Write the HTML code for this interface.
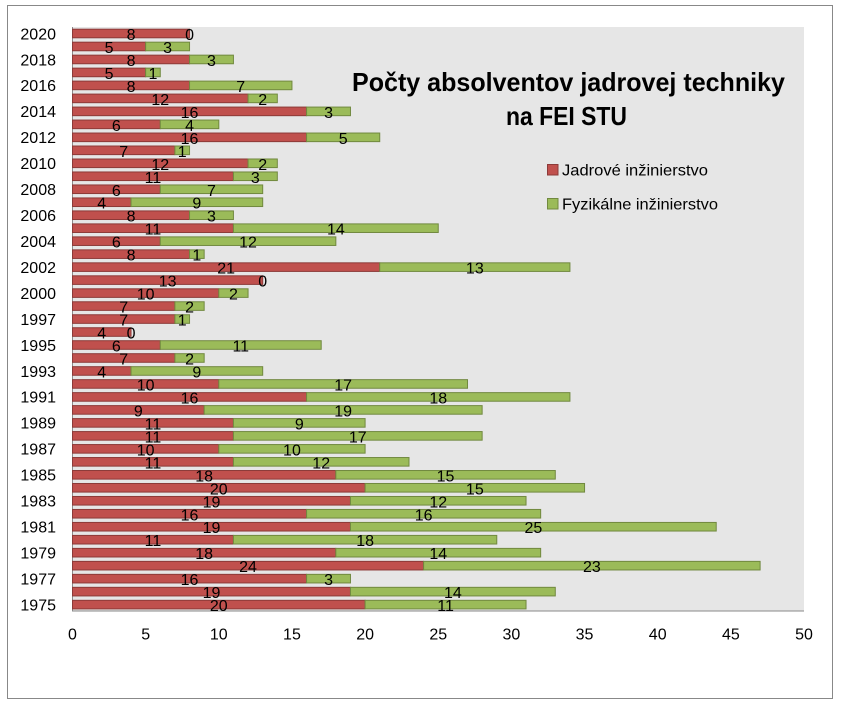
<!DOCTYPE html>
<html><head><meta charset="utf-8"><style>
html,body{margin:0;padding:0;background:#fff;}
svg{display:block;}
text{font-family:"Liberation Sans",sans-serif;fill:#000;}
</style></head><body>
<svg width="843" height="707" viewBox="0 0 843 707" xmlns="http://www.w3.org/2000/svg">
<rect x="0" y="0" width="843" height="707" fill="#fff"/>
<rect x="7.5" y="5.5" width="825" height="693" fill="#fff" stroke="#888" stroke-width="1"/>
<rect x="72.5" y="27" width="731.5" height="584" fill="#e6e6e6"/>
<line x1="72.5" y1="27" x2="72.5" y2="611" stroke="#8a8a8a" stroke-width="1"/>
<line x1="72" y1="611" x2="804" y2="611" stroke="#8a8a8a" stroke-width="1"/>

<g stroke-width="1">
<g id="bars">
<g transform="translate(0,33.49)"><rect x="72.5" y="-4.3" width="117.04" height="8.6" fill="#c0504d" stroke="#8c3a38"/><text x="131.02" y="6.5" font-size="16" text-anchor="middle">8</text><text x="189.54" y="6.5" font-size="16" text-anchor="middle">0</text></g>
<g transform="translate(0,46.47)"><rect x="72.5" y="-4.3" width="73.15" height="8.6" fill="#c0504d" stroke="#8c3a38"/><rect x="145.65" y="-4.3" width="43.89" height="8.6" fill="#9bbb59" stroke="#71893f"/><text x="109.08" y="6.5" font-size="16" text-anchor="middle">5</text><text x="167.6" y="6.5" font-size="16" text-anchor="middle">3</text></g>
<g transform="translate(0,59.45)"><rect x="72.5" y="-4.3" width="117.04" height="8.6" fill="#c0504d" stroke="#8c3a38"/><rect x="189.54" y="-4.3" width="43.89" height="8.6" fill="#9bbb59" stroke="#71893f"/><text x="131.02" y="6.5" font-size="16" text-anchor="middle">8</text><text x="211.49" y="6.5" font-size="16" text-anchor="middle">3</text></g>
<g transform="translate(0,72.43)"><rect x="72.5" y="-4.3" width="73.15" height="8.6" fill="#c0504d" stroke="#8c3a38"/><rect x="145.65" y="-4.3" width="14.63" height="8.6" fill="#9bbb59" stroke="#71893f"/><text x="109.08" y="6.5" font-size="16" text-anchor="middle">5</text><text x="152.97" y="6.5" font-size="16" text-anchor="middle">1</text></g>
<g transform="translate(0,85.41)"><rect x="72.5" y="-4.3" width="117.04" height="8.6" fill="#c0504d" stroke="#8c3a38"/><rect x="189.54" y="-4.3" width="102.41" height="8.6" fill="#9bbb59" stroke="#71893f"/><text x="131.02" y="6.5" font-size="16" text-anchor="middle">8</text><text x="240.75" y="6.5" font-size="16" text-anchor="middle">7</text></g>
<g transform="translate(0,98.39)"><rect x="72.5" y="-4.3" width="175.56" height="8.6" fill="#c0504d" stroke="#8c3a38"/><rect x="248.06" y="-4.3" width="29.26" height="8.6" fill="#9bbb59" stroke="#71893f"/><text x="160.28" y="6.5" font-size="16" text-anchor="middle">12</text><text x="262.69" y="6.5" font-size="16" text-anchor="middle">2</text></g>
<g transform="translate(0,111.37)"><rect x="72.5" y="-4.3" width="234.08" height="8.6" fill="#c0504d" stroke="#8c3a38"/><rect x="306.58" y="-4.3" width="43.89" height="8.6" fill="#9bbb59" stroke="#71893f"/><text x="189.54" y="6.5" font-size="16" text-anchor="middle">16</text><text x="328.53" y="6.5" font-size="16" text-anchor="middle">3</text></g>
<g transform="translate(0,124.35)"><rect x="72.5" y="-4.3" width="87.78" height="8.6" fill="#c0504d" stroke="#8c3a38"/><rect x="160.28" y="-4.3" width="58.52" height="8.6" fill="#9bbb59" stroke="#71893f"/><text x="116.39" y="6.5" font-size="16" text-anchor="middle">6</text><text x="189.54" y="6.5" font-size="16" text-anchor="middle">4</text></g>
<g transform="translate(0,137.33)"><rect x="72.5" y="-4.3" width="234.08" height="8.6" fill="#c0504d" stroke="#8c3a38"/><rect x="306.58" y="-4.3" width="73.15" height="8.6" fill="#9bbb59" stroke="#71893f"/><text x="189.54" y="6.5" font-size="16" text-anchor="middle">16</text><text x="343.16" y="6.5" font-size="16" text-anchor="middle">5</text></g>
<g transform="translate(0,150.31)"><rect x="72.5" y="-4.3" width="102.41" height="8.6" fill="#c0504d" stroke="#8c3a38"/><rect x="174.91" y="-4.3" width="14.63" height="8.6" fill="#9bbb59" stroke="#71893f"/><text x="123.71" y="6.5" font-size="16" text-anchor="middle">7</text><text x="182.23" y="6.5" font-size="16" text-anchor="middle">1</text></g>
<g transform="translate(0,163.29)"><rect x="72.5" y="-4.3" width="175.56" height="8.6" fill="#c0504d" stroke="#8c3a38"/><rect x="248.06" y="-4.3" width="29.26" height="8.6" fill="#9bbb59" stroke="#71893f"/><text x="160.28" y="6.5" font-size="16" text-anchor="middle">12</text><text x="262.69" y="6.5" font-size="16" text-anchor="middle">2</text></g>
<g transform="translate(0,176.27)"><rect x="72.5" y="-4.3" width="160.93" height="8.6" fill="#c0504d" stroke="#8c3a38"/><rect x="233.43" y="-4.3" width="43.89" height="8.6" fill="#9bbb59" stroke="#71893f"/><text x="152.97" y="6.5" font-size="16" text-anchor="middle">11</text><text x="255.38" y="6.5" font-size="16" text-anchor="middle">3</text></g>
<g transform="translate(0,189.25)"><rect x="72.5" y="-4.3" width="87.78" height="8.6" fill="#c0504d" stroke="#8c3a38"/><rect x="160.28" y="-4.3" width="102.41" height="8.6" fill="#9bbb59" stroke="#71893f"/><text x="116.39" y="6.5" font-size="16" text-anchor="middle">6</text><text x="211.49" y="6.5" font-size="16" text-anchor="middle">7</text></g>
<g transform="translate(0,202.23)"><rect x="72.5" y="-4.3" width="58.52" height="8.6" fill="#c0504d" stroke="#8c3a38"/><rect x="131.02" y="-4.3" width="131.67" height="8.6" fill="#9bbb59" stroke="#71893f"/><text x="101.76" y="6.5" font-size="16" text-anchor="middle">4</text><text x="196.86" y="6.5" font-size="16" text-anchor="middle">9</text></g>
<g transform="translate(0,215.21)"><rect x="72.5" y="-4.3" width="117.04" height="8.6" fill="#c0504d" stroke="#8c3a38"/><rect x="189.54" y="-4.3" width="43.89" height="8.6" fill="#9bbb59" stroke="#71893f"/><text x="131.02" y="6.5" font-size="16" text-anchor="middle">8</text><text x="211.49" y="6.5" font-size="16" text-anchor="middle">3</text></g>
<g transform="translate(0,228.19)"><rect x="72.5" y="-4.3" width="160.93" height="8.6" fill="#c0504d" stroke="#8c3a38"/><rect x="233.43" y="-4.3" width="204.82" height="8.6" fill="#9bbb59" stroke="#71893f"/><text x="152.97" y="6.5" font-size="16" text-anchor="middle">11</text><text x="335.84" y="6.5" font-size="16" text-anchor="middle">14</text></g>
<g transform="translate(0,241.17)"><rect x="72.5" y="-4.3" width="87.78" height="8.6" fill="#c0504d" stroke="#8c3a38"/><rect x="160.28" y="-4.3" width="175.56" height="8.6" fill="#9bbb59" stroke="#71893f"/><text x="116.39" y="6.5" font-size="16" text-anchor="middle">6</text><text x="248.06" y="6.5" font-size="16" text-anchor="middle">12</text></g>
<g transform="translate(0,254.15)"><rect x="72.5" y="-4.3" width="117.04" height="8.6" fill="#c0504d" stroke="#8c3a38"/><rect x="189.54" y="-4.3" width="14.63" height="8.6" fill="#9bbb59" stroke="#71893f"/><text x="131.02" y="6.5" font-size="16" text-anchor="middle">8</text><text x="196.86" y="6.5" font-size="16" text-anchor="middle">1</text></g>
<g transform="translate(0,267.13)"><rect x="72.5" y="-4.3" width="307.23" height="8.6" fill="#c0504d" stroke="#8c3a38"/><rect x="379.73" y="-4.3" width="190.19" height="8.6" fill="#9bbb59" stroke="#71893f"/><text x="226.12" y="6.5" font-size="16" text-anchor="middle">21</text><text x="474.83" y="6.5" font-size="16" text-anchor="middle">13</text></g>
<g transform="translate(0,280.11)"><rect x="72.5" y="-4.3" width="190.19" height="8.6" fill="#c0504d" stroke="#8c3a38"/><text x="167.6" y="6.5" font-size="16" text-anchor="middle">13</text><text x="262.69" y="6.5" font-size="16" text-anchor="middle">0</text></g>
<g transform="translate(0,293.09)"><rect x="72.5" y="-4.3" width="146.3" height="8.6" fill="#c0504d" stroke="#8c3a38"/><rect x="218.8" y="-4.3" width="29.26" height="8.6" fill="#9bbb59" stroke="#71893f"/><text x="145.65" y="6.5" font-size="16" text-anchor="middle">10</text><text x="233.43" y="6.5" font-size="16" text-anchor="middle">2</text></g>
<g transform="translate(0,306.07)"><rect x="72.5" y="-4.3" width="102.41" height="8.6" fill="#c0504d" stroke="#8c3a38"/><rect x="174.91" y="-4.3" width="29.26" height="8.6" fill="#9bbb59" stroke="#71893f"/><text x="123.71" y="6.5" font-size="16" text-anchor="middle">7</text><text x="189.54" y="6.5" font-size="16" text-anchor="middle">2</text></g>
<g transform="translate(0,319.05)"><rect x="72.5" y="-4.3" width="102.41" height="8.6" fill="#c0504d" stroke="#8c3a38"/><rect x="174.91" y="-4.3" width="14.63" height="8.6" fill="#9bbb59" stroke="#71893f"/><text x="123.71" y="6.5" font-size="16" text-anchor="middle">7</text><text x="182.23" y="6.5" font-size="16" text-anchor="middle">1</text></g>
<g transform="translate(0,332.03)"><rect x="72.5" y="-4.3" width="58.52" height="8.6" fill="#c0504d" stroke="#8c3a38"/><text x="101.76" y="6.5" font-size="16" text-anchor="middle">4</text><text x="131.02" y="6.5" font-size="16" text-anchor="middle">0</text></g>
<g transform="translate(0,345.01)"><rect x="72.5" y="-4.3" width="87.78" height="8.6" fill="#c0504d" stroke="#8c3a38"/><rect x="160.28" y="-4.3" width="160.93" height="8.6" fill="#9bbb59" stroke="#71893f"/><text x="116.39" y="6.5" font-size="16" text-anchor="middle">6</text><text x="240.75" y="6.5" font-size="16" text-anchor="middle">11</text></g>
<g transform="translate(0,357.99)"><rect x="72.5" y="-4.3" width="102.41" height="8.6" fill="#c0504d" stroke="#8c3a38"/><rect x="174.91" y="-4.3" width="29.26" height="8.6" fill="#9bbb59" stroke="#71893f"/><text x="123.71" y="6.5" font-size="16" text-anchor="middle">7</text><text x="189.54" y="6.5" font-size="16" text-anchor="middle">2</text></g>
<g transform="translate(0,370.97)"><rect x="72.5" y="-4.3" width="58.52" height="8.6" fill="#c0504d" stroke="#8c3a38"/><rect x="131.02" y="-4.3" width="131.67" height="8.6" fill="#9bbb59" stroke="#71893f"/><text x="101.76" y="6.5" font-size="16" text-anchor="middle">4</text><text x="196.86" y="6.5" font-size="16" text-anchor="middle">9</text></g>
<g transform="translate(0,383.95)"><rect x="72.5" y="-4.3" width="146.3" height="8.6" fill="#c0504d" stroke="#8c3a38"/><rect x="218.8" y="-4.3" width="248.71" height="8.6" fill="#9bbb59" stroke="#71893f"/><text x="145.65" y="6.5" font-size="16" text-anchor="middle">10</text><text x="343.16" y="6.5" font-size="16" text-anchor="middle">17</text></g>
<g transform="translate(0,396.93)"><rect x="72.5" y="-4.3" width="234.08" height="8.6" fill="#c0504d" stroke="#8c3a38"/><rect x="306.58" y="-4.3" width="263.34" height="8.6" fill="#9bbb59" stroke="#71893f"/><text x="189.54" y="6.5" font-size="16" text-anchor="middle">16</text><text x="438.25" y="6.5" font-size="16" text-anchor="middle">18</text></g>
<g transform="translate(0,409.91)"><rect x="72.5" y="-4.3" width="131.67" height="8.6" fill="#c0504d" stroke="#8c3a38"/><rect x="204.17" y="-4.3" width="277.97" height="8.6" fill="#9bbb59" stroke="#71893f"/><text x="138.34" y="6.5" font-size="16" text-anchor="middle">9</text><text x="343.16" y="6.5" font-size="16" text-anchor="middle">19</text></g>
<g transform="translate(0,422.89)"><rect x="72.5" y="-4.3" width="160.93" height="8.6" fill="#c0504d" stroke="#8c3a38"/><rect x="233.43" y="-4.3" width="131.67" height="8.6" fill="#9bbb59" stroke="#71893f"/><text x="152.97" y="6.5" font-size="16" text-anchor="middle">11</text><text x="299.27" y="6.5" font-size="16" text-anchor="middle">9</text></g>
<g transform="translate(0,435.87)"><rect x="72.5" y="-4.3" width="160.93" height="8.6" fill="#c0504d" stroke="#8c3a38"/><rect x="233.43" y="-4.3" width="248.71" height="8.6" fill="#9bbb59" stroke="#71893f"/><text x="152.97" y="6.5" font-size="16" text-anchor="middle">11</text><text x="357.79" y="6.5" font-size="16" text-anchor="middle">17</text></g>
<g transform="translate(0,448.85)"><rect x="72.5" y="-4.3" width="146.3" height="8.6" fill="#c0504d" stroke="#8c3a38"/><rect x="218.8" y="-4.3" width="146.3" height="8.6" fill="#9bbb59" stroke="#71893f"/><text x="145.65" y="6.5" font-size="16" text-anchor="middle">10</text><text x="291.95" y="6.5" font-size="16" text-anchor="middle">10</text></g>
<g transform="translate(0,461.83)"><rect x="72.5" y="-4.3" width="160.93" height="8.6" fill="#c0504d" stroke="#8c3a38"/><rect x="233.43" y="-4.3" width="175.56" height="8.6" fill="#9bbb59" stroke="#71893f"/><text x="152.97" y="6.5" font-size="16" text-anchor="middle">11</text><text x="321.21" y="6.5" font-size="16" text-anchor="middle">12</text></g>
<g transform="translate(0,474.81)"><rect x="72.5" y="-4.3" width="263.34" height="8.6" fill="#c0504d" stroke="#8c3a38"/><rect x="335.84" y="-4.3" width="219.45" height="8.6" fill="#9bbb59" stroke="#71893f"/><text x="204.17" y="6.5" font-size="16" text-anchor="middle">18</text><text x="445.57" y="6.5" font-size="16" text-anchor="middle">15</text></g>
<g transform="translate(0,487.79)"><rect x="72.5" y="-4.3" width="292.6" height="8.6" fill="#c0504d" stroke="#8c3a38"/><rect x="365.1" y="-4.3" width="219.45" height="8.6" fill="#9bbb59" stroke="#71893f"/><text x="218.8" y="6.5" font-size="16" text-anchor="middle">20</text><text x="474.83" y="6.5" font-size="16" text-anchor="middle">15</text></g>
<g transform="translate(0,500.77)"><rect x="72.5" y="-4.3" width="277.97" height="8.6" fill="#c0504d" stroke="#8c3a38"/><rect x="350.47" y="-4.3" width="175.56" height="8.6" fill="#9bbb59" stroke="#71893f"/><text x="211.49" y="6.5" font-size="16" text-anchor="middle">19</text><text x="438.25" y="6.5" font-size="16" text-anchor="middle">12</text></g>
<g transform="translate(0,513.75)"><rect x="72.5" y="-4.3" width="234.08" height="8.6" fill="#c0504d" stroke="#8c3a38"/><rect x="306.58" y="-4.3" width="234.08" height="8.6" fill="#9bbb59" stroke="#71893f"/><text x="189.54" y="6.5" font-size="16" text-anchor="middle">16</text><text x="423.62" y="6.5" font-size="16" text-anchor="middle">16</text></g>
<g transform="translate(0,526.73)"><rect x="72.5" y="-4.3" width="277.97" height="8.6" fill="#c0504d" stroke="#8c3a38"/><rect x="350.47" y="-4.3" width="365.75" height="8.6" fill="#9bbb59" stroke="#71893f"/><text x="211.49" y="6.5" font-size="16" text-anchor="middle">19</text><text x="533.35" y="6.5" font-size="16" text-anchor="middle">25</text></g>
<g transform="translate(0,539.71)"><rect x="72.5" y="-4.3" width="160.93" height="8.6" fill="#c0504d" stroke="#8c3a38"/><rect x="233.43" y="-4.3" width="263.34" height="8.6" fill="#9bbb59" stroke="#71893f"/><text x="152.97" y="6.5" font-size="16" text-anchor="middle">11</text><text x="365.1" y="6.5" font-size="16" text-anchor="middle">18</text></g>
<g transform="translate(0,552.69)"><rect x="72.5" y="-4.3" width="263.34" height="8.6" fill="#c0504d" stroke="#8c3a38"/><rect x="335.84" y="-4.3" width="204.82" height="8.6" fill="#9bbb59" stroke="#71893f"/><text x="204.17" y="6.5" font-size="16" text-anchor="middle">18</text><text x="438.25" y="6.5" font-size="16" text-anchor="middle">14</text></g>
<g transform="translate(0,565.67)"><rect x="72.5" y="-4.3" width="351.12" height="8.6" fill="#c0504d" stroke="#8c3a38"/><rect x="423.62" y="-4.3" width="336.49" height="8.6" fill="#9bbb59" stroke="#71893f"/><text x="248.06" y="6.5" font-size="16" text-anchor="middle">24</text><text x="591.87" y="6.5" font-size="16" text-anchor="middle">23</text></g>
<g transform="translate(0,578.65)"><rect x="72.5" y="-4.3" width="234.08" height="8.6" fill="#c0504d" stroke="#8c3a38"/><rect x="306.58" y="-4.3" width="43.89" height="8.6" fill="#9bbb59" stroke="#71893f"/><text x="189.54" y="6.5" font-size="16" text-anchor="middle">16</text><text x="328.53" y="6.5" font-size="16" text-anchor="middle">3</text></g>
<g transform="translate(0,591.63)"><rect x="72.5" y="-4.3" width="277.97" height="8.6" fill="#c0504d" stroke="#8c3a38"/><rect x="350.47" y="-4.3" width="204.82" height="8.6" fill="#9bbb59" stroke="#71893f"/><text x="211.49" y="6.5" font-size="16" text-anchor="middle">19</text><text x="452.88" y="6.5" font-size="16" text-anchor="middle">14</text></g>
<g transform="translate(0,604.61)"><rect x="72.5" y="-4.3" width="292.6" height="8.6" fill="#c0504d" stroke="#8c3a38"/><rect x="365.1" y="-4.3" width="160.93" height="8.6" fill="#9bbb59" stroke="#71893f"/><text x="218.8" y="6.5" font-size="16" text-anchor="middle">20</text><text x="445.57" y="6.5" font-size="16" text-anchor="middle">11</text></g>
</g>
</g>

<g font-size="16" text-anchor="end">
<text x="56" y="39.3">2020</text>
<text x="56" y="65.3">2018</text>
<text x="56" y="91.2">2016</text>
<text x="56" y="117.2">2014</text>
<text x="56" y="143.1">2012</text>
<text x="56" y="169.1">2010</text>
<text x="56" y="195.1">2008</text>
<text x="56" y="221.0">2006</text>
<text x="56" y="247.0">2004</text>
<text x="56" y="272.9">2002</text>
<text x="56" y="298.9">2000</text>
<text x="56" y="324.9">1997</text>
<text x="56" y="350.8">1995</text>
<text x="56" y="376.8">1993</text>
<text x="56" y="402.7">1991</text>
<text x="56" y="428.7">1989</text>
<text x="56" y="454.7">1987</text>
<text x="56" y="480.6">1985</text>
<text x="56" y="506.6">1983</text>
<text x="56" y="532.5">1981</text>
<text x="56" y="558.5">1979</text>
<text x="56" y="584.5">1977</text>
<text x="56" y="610.4">1975</text>
</g>

<g font-size="16" text-anchor="middle">
<text x="72.5" y="639.5">0</text>
<text x="145.65" y="639.5">5</text>
<text x="218.8" y="639.5">10</text>
<text x="291.95" y="639.5">15</text>
<text x="365.1" y="639.5">20</text>
<text x="438.25" y="639.5">25</text>
<text x="511.4" y="639.5">30</text>
<text x="584.55" y="639.5">35</text>
<text x="657.7" y="639.5">40</text>
<text x="730.85" y="639.5">45</text>
<text x="804" y="639.5">50</text>
</g>

<text x="352" y="91" font-size="26" font-weight="bold" textLength="433" lengthAdjust="spacingAndGlyphs">Počty absolventov jadrovej techniky</text>
<text x="506" y="125" font-size="26" font-weight="bold" textLength="121" lengthAdjust="spacingAndGlyphs">na FEI STU</text>

<rect x="547.5" y="164.5" width="10.5" height="10.5" fill="#c0504d" stroke="#8c3a38" stroke-width="1"/>
<text x="562" y="175.5" font-size="16" textLength="146" lengthAdjust="spacingAndGlyphs">Jadrové inžinierstvo</text>
<rect x="547.5" y="198.5" width="10.5" height="10.5" fill="#9bbb59" stroke="#71893f" stroke-width="1"/>
<text x="562" y="209.5" font-size="16" textLength="156" lengthAdjust="spacingAndGlyphs">Fyzikálne inžinierstvo</text>
</svg>
</body></html>
